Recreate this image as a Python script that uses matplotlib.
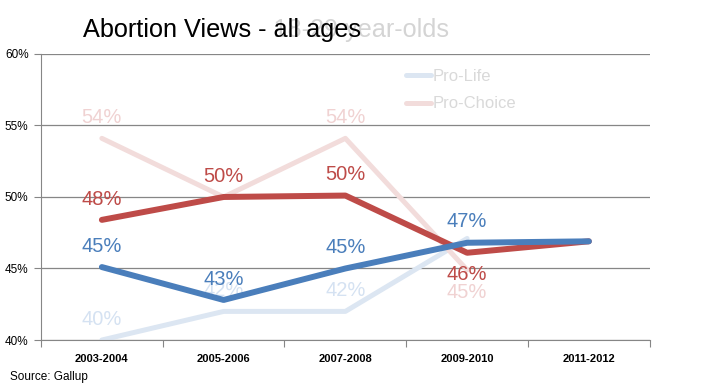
import matplotlib
matplotlib.use('Agg')
import matplotlib.pyplot as plt
import numpy as np

periods = ['2003-2004', '2005-2006', '2007-2008', '2009-2010', '2011-2012']
# all ages (bold lines)
pro_life_all = [45.1, 42.8, 45.0, 46.8, 46.9]
pro_choice_all = [48.4, 50.0, 50.1, 46.1, 46.9]
pro_life_all_lbl = ['45%', '43%', '45%', '47%', None]
pro_choice_all_lbl = ['48%', '50%', '50%', '46%', None]
# 18-29 year-olds (faded lines)
pro_life_young = [40.0, 42.0, 42.0, 47.1]
pro_choice_young = [54.1, 50.0, 54.1, 44.9]
pro_life_young_lbl = ['40%', '42%', '42%', None]
pro_choice_young_lbl = ['54%', None, '54%', '45%']

BLUE = '#4A7EBB'
RED = '#BE4B48'
LBLUE = '#DCE6F2'
LRED = '#F2DCDB'

plt.rcParams['font.family'] = ['Liberation Sans', 'DejaVu Sans']

fig = plt.figure(figsize=(7.07, 3.91), dpi=100)
ax = fig.add_axes([0.058, 0.1304, 0.861, 0.7316])

x = np.arange(len(periods))
xy = np.arange(len(pro_life_young))

ax.plot(xy, pro_life_young, color=LBLUE, lw=3.6, solid_capstyle='round', solid_joinstyle='round', zorder=2)
ax.plot(xy, pro_choice_young, color=LRED, lw=3.6, solid_capstyle='round', solid_joinstyle='round', zorder=2)
ax.plot(x, pro_choice_all, color=RED, lw=4.3, solid_capstyle='round', solid_joinstyle='round', zorder=3)
ax.plot(x, pro_life_all, color=BLUE, lw=4.3, solid_capstyle='round', solid_joinstyle='round', zorder=4)


def put_labels(xs, ys, labels, color, below_idx, z):
    for xi, yi, lab in zip(xs, ys, labels):
        if lab is None:
            continue
        dy = -16 if xi in below_idx else 15
        ax.annotate(lab, (xi, yi), xytext=(0, dy), textcoords='offset points',
                    ha='center', va='center', fontsize=14.5, color=color, zorder=z)


put_labels(xy, pro_life_young, pro_life_young_lbl, '#D5E2F2', [], 2)
put_labels(xy, pro_choice_young, pro_choice_young_lbl, '#F0D2D2', [3], 2)
put_labels(x, pro_choice_all, pro_choice_all_lbl, RED, [3], 5)
put_labels(x, pro_life_all, pro_life_all_lbl, BLUE, [], 5)

ax.set_xlim(-0.5, 4.5)
ax.set_ylim(40, 60)
ax.set_yticks([40, 45, 50, 55, 60])
ax.set_yticklabels(['40%', '45%', '50%', '55%', '60%'], fontsize=8.5)
ax.yaxis.grid(True, color='#868686', lw=0.9)
ax.set_axisbelow(True)

ax.set_xticks(np.arange(-0.5, 5, 1))
ax.set_xticklabels([])
ax.set_xticks(x, minor=True)
ax.set_xticklabels(periods, minor=True, fontsize=8, fontweight='bold')
ax.tick_params(axis='x', which='minor', length=0, pad=10)
ax.tick_params(axis='x', which='major', length=5, color='#868686')
ax.tick_params(axis='y', length=5, color='#868686', pad=4)

for s in ['top', 'right']:
    ax.spines[s].set_visible(False)
for s in ['left', 'bottom']:
    ax.spines[s].set_color('#868686')

# legend (faded)
ax.plot([], [], color=LBLUE, lw=3.6, solid_capstyle='round', label='Pro-Life')
ax.plot([], [], color=LRED, lw=3.6, solid_capstyle='round', label='Pro-Choice')
leg = ax.legend(loc='upper left', bbox_to_anchor=(0.575, 1.0), frameon=False,
                fontsize=12, handlelength=1.5, handletextpad=0.1, labelspacing=0.75)
for t in leg.get_texts():
    t.set_color('#D9D9D9')

fig.text(0.117, 0.922, 'Abortion Views - 18-29 year-olds', fontsize=18.2, color='#D4D4D4', va='center')
fig.text(0.117, 0.922, 'Abortion Views - all ages', fontsize=18.2, color='black', va='center')
fig.text(0.014, 0.035, 'Source: Gallup', fontsize=8.5, va='center')

fig.savefig('out.png', dpi=100)
